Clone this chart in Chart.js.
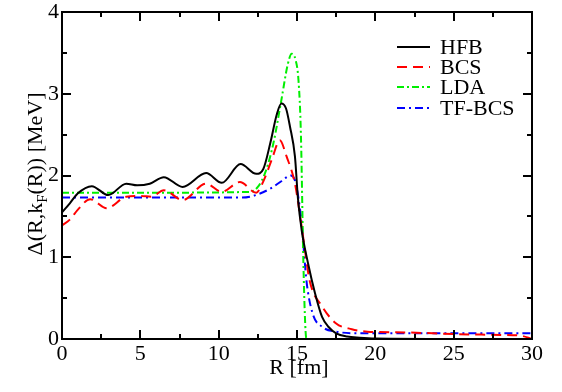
<!DOCTYPE html>
<html>
<head>
<meta charset="utf-8">
<script src="https://cdn.jsdelivr.net/npm/chart.js@4.4.0/dist/chart.umd.min.js"></script>
<style>
  body { margin: 0; background: #fff; }
  canvas { display: block; }
</style>
</head>
<body>
<canvas id="gapChart" width="562" height="392"></canvas>
<script>
// R grid (fm) and pairing gap (MeV) for each curve
var rHFB = [0, 0.5, 1.0, 1.9, 2.95, 4.1, 4.8, 5.6, 6.5, 7.7, 9.2, 10.2, 11.4, 12.4, 12.85, 13.3, 13.7, 14.0, 14.3, 14.55, 14.87, 15.06, 15.3, 15.7, 16.15, 16.6, 17.0, 17.5, 18.2, 19, 20, 25, 30];
var hfb  = [1.55, 1.66, 1.78, 1.87, 1.76, 1.90, 1.88, 1.90, 1.98, 1.86, 2.03, 1.91, 2.14, 2.02, 2.08, 2.40, 2.74, 2.88, 2.82, 2.60, 2.23, 1.72, 1.33, 0.93, 0.56, 0.27, 0.15, 0.07, 0.03, 0.015, 0.005, 0, 0];

var rBCS = [0, 0.5, 1.0, 1.8, 2.85, 4.1, 5.0, 5.7, 6.5, 7.7, 9.2, 10.2, 11.35, 12.4, 12.9, 13.4, 13.9, 14.34, 14.87, 15.2, 15.5, 15.8, 16.6, 17.5, 18.5, 19.5, 22, 25, 28, 29.3, 30];
var bcs  = [1.39, 1.46, 1.58, 1.71, 1.60, 1.74, 1.75, 1.74, 1.82, 1.70, 1.90, 1.80, 1.92, 1.79, 1.95, 2.20, 2.43, 2.23, 1.90, 1.50, 1.10, 0.72, 0.40, 0.19, 0.12, 0.09, 0.08, 0.06, 0.05, 0.04, 0.0];

var rLDA = [0, 6, 12, 12.5, 13.0, 13.5, 14.0, 14.4, 14.66, 14.9, 15.1, 15.25, 15.4, 15.5, 15.6, 20, 30];
var lda  = [1.79, 1.79, 1.80, 1.86, 2.05, 2.40, 2.92, 3.35, 3.49, 3.42, 3.15, 2.50, 1.00, 0.30, 0, 0, 0];

var rTF = [0, 6, 11.5, 12.2, 13.3, 14.0, 14.6, 14.85, 15.08, 15.3, 15.6, 16.0, 16.6, 17.5, 19, 20, 30];
var tfbcs = [1.73, 1.73, 1.73, 1.75, 1.84, 1.93, 2.00, 1.95, 1.74, 1.41, 0.72, 0.31, 0.15, 0.09, 0.07, 0.07, 0.07];

var xTicks = [0, 5, 10, 15, 20, 25, 30];
var yTicks = [0, 1, 2, 3, 4];

var serif = "'Liberation Serif', 'Times New Roman', serif";

function pts(xs, ys) {
  return xs.map(function (x, i) { return { x: x, y: ys[i] }; });
}

function series(label, xs, ys, color, dash) {
  return {
    label: label,
    data: pts(xs, ys),
    borderColor: color,
    backgroundColor: color,
    borderWidth: 2,
    borderDash: dash,
    pointRadius: 0,
    fill: false,
    cubicInterpolationMode: "monotone",
  };
}

var datasets = [
  series("HFB", rHFB, hfb, "#000000", []),
  series("BCS", rBCS, bcs, "#ff0000", [10, 6]),
  series("LDA", rLDA, lda, "#00ee00", [7, 3, 2, 3]),
  series("TF-BCS", rTF, tfbcs, "#0000ff", [8, 4, 2, 4]),
];

// frame, inward ticks, axis titles and legend
var decor = {
  id: "decor",
  afterDraw: function (chart) {
    var c = chart.ctx;
    var a = chart.chartArea;
    var xs = chart.scales.x, ys = chart.scales.y;
    c.save();
    c.strokeStyle = "#000";
    c.lineWidth = 2;
    c.setLineDash([]);
    c.strokeRect(a.left, a.top, a.right - a.left, a.bottom - a.top);

    c.beginPath();
    for (var v = 0; v <= 30; v += 2.5) {
      var px = Math.round(xs.getPixelForValue(v));
      var len = v % 5 === 0 ? 9 : 5;
      c.moveTo(px, a.bottom); c.lineTo(px, a.bottom - len);
      c.moveTo(px, a.top); c.lineTo(px, a.top + len);
    }
    for (var w = 0; w <= 4; w += 0.5) {
      var py = Math.round(ys.getPixelForValue(w));
      var l2 = w % 1 === 0 ? 9 : 5;
      c.moveTo(a.left, py); c.lineTo(a.left + l2, py);
      c.moveTo(a.right, py); c.lineTo(a.right - l2, py);
    }
    c.stroke();

    // x title
    c.fillStyle = "#000";
    c.font = "22px " + serif;
    c.textAlign = "center";
    c.textBaseline = "alphabetic";
    c.fillText("R [fm]", 299, 374);

    // y title with subscript F
    c.save();
    c.translate(42, 174);
    c.rotate(-Math.PI / 2);
    c.textAlign = "left";
    var p1 = "\u0394(R,k", sub = "F", p2 = "(R)) [MeV]";
    c.font = "22px " + serif;
    var w1 = c.measureText(p1).width, w3 = c.measureText(p2).width;
    c.font = "15px " + serif;
    var w2 = c.measureText(sub).width;
    var x0 = -(w1 + w2 + w3) / 2;
    c.font = "22px " + serif;
    c.fillText(p1, x0, 0);
    c.font = "15px " + serif;
    c.fillText(sub, x0 + w1, 5);
    c.font = "22px " + serif;
    c.fillText(p2, x0 + w1 + w2, 0);
    c.restore();

    // legend
    var rows = [47, 67, 87, 108];
    c.font = "22px " + serif;
    c.textAlign = "left";
    c.textBaseline = "middle";
    datasets.forEach(function (ds, i) {
      c.strokeStyle = ds.borderColor;
      c.lineWidth = 2;
      c.setLineDash(ds.borderDash);
      c.beginPath();
      c.moveTo(397, rows[i]);
      c.lineTo(430, rows[i]);
      c.stroke();
      c.fillStyle = "#000";
      c.fillText(ds.label, 440, rows[i] + 1);
    });
    c.restore();
  },
};

var ctx = document.getElementById("gapChart").getContext("2d");
var gapChart = new Chart(ctx, {
  type: "line",
  data: { datasets: datasets },
  options: {
    responsive: false,
    animation: false,
    layout: { padding: { top: 12, right: 30, left: 0, bottom: 0 } },
    plugins: { legend: { display: false }, tooltip: { enabled: false } },
    scales: {
      x: {
        type: "linear",
        min: 0,
        max: 30,
        afterBuildTicks: function (s) { s.ticks = xTicks.map(function (v) { return { value: v }; }); },
        afterFit: function (s) { s.height = 53; s.paddingLeft = 0; s.paddingRight = 0; },
        grid: { display: false, drawTicks: false, tickLength: 0 },
        border: { display: false },
        ticks: { color: "#000", padding: 2, font: { family: serif, size: 22 } },
      },
      y: {
        type: "linear",
        min: 0,
        max: 4,
        afterBuildTicks: function (s) { s.ticks = yTicks.map(function (v) { return { value: v }; }); },
        afterFit: function (s) { s.width = 62; s.paddingTop = 0; s.paddingBottom = 0; },
        grid: { display: false, drawTicks: false, tickLength: 0 },
        border: { display: false },
        ticks: { color: "#000", padding: 3, font: { family: serif, size: 22 } },
      },
    },
  },
  plugins: [decor],
});
</script>
</body>
</html>
